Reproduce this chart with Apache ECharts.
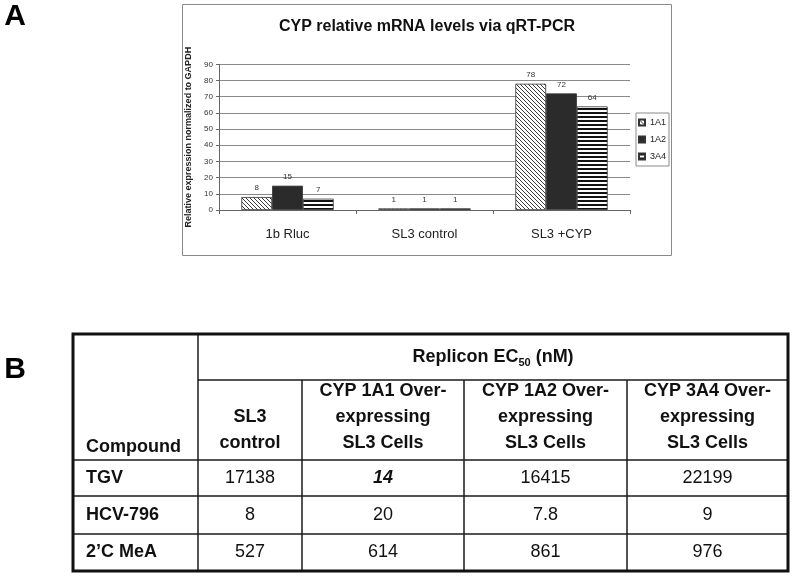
<!DOCTYPE html>
<html>
<head>
<meta charset="utf-8">
<script src="https://cdn.jsdelivr.net/npm/echarts@6/dist/echarts.min.js"></script>
<style>
html,body{margin:0;padding:0;background:#fff;}
#main{width:795px;height:577px;}
</style>
</head>
<body>
<div id="main"></div>
<script>
// ---- Panel A data ----
const chartTitle = 'CYP relative mRNA levels via qRT-PCR';
const yAxisName = 'Relative expression normalized to GAPDH';
const categories = ['1b Rluc', 'SL3 control', 'SL3 +CYP'];
const seriesNames = ['1A1', '1A2', '3A4'];
const values1A1 = [8, 1, 78];
const values1A2 = [15, 1, 72];
const values3A4 = [7, 1, 64];
const yMin = 0, yMax = 90, yStep = 10;

// ---- Panel B data ----
const tableGroupHeader = 'Replicon EC';
const tableGroupSub = '50';
const tableGroupTail = ' (nM)';
const compoundHeader = 'Compound';
const columnHeaders = ['SL3\ncontrol', 'CYP 1A1 Over-\nexpressing\nSL3 Cells', 'CYP 1A2 Over-\nexpressing\nSL3 Cells', 'CYP 3A4 Over-\nexpressing\nSL3 Cells'];
const compounds = ['TGV', 'HCV-796', '2\u2019C MeA'];
const rowTGV = ['17138', '14', '16415', '22199'];
const rowHCV796 = ['8', '20', '7.8', '9'];
const rowMeA = ['527', '614', '861', '976'];
const tableRows = [rowTGV, rowHCV796, rowMeA];
const emphasized = [[0, 1]]; // TGV in CYP 1A1 cells shown bold italic

const FONT = "'Liberation Sans', Arial, sans-serif";

function hatchPattern() {
  const c = document.createElement('canvas');
  c.width = 4; c.height = 4;
  const g = c.getContext('2d');
  g.fillStyle = '#fff'; g.fillRect(0, 0, 4, 4);
  g.strokeStyle = '#3a3a3a'; g.lineWidth = 1;
  g.beginPath();
  g.moveTo(-1, -1); g.lineTo(5, 5);
  g.moveTo(-1, 3); g.lineTo(1, 5);
  g.moveTo(3, -1); g.lineTo(5, 1);
  g.stroke();
  return c;
}
function stripePattern() {
  const c = document.createElement('canvas');
  c.width = 4; c.height = 4;
  const g = c.getContext('2d');
  g.fillStyle = '#fff'; g.fillRect(0, 0, 4, 4);
  g.fillStyle = '#111'; g.fillRect(0, 0, 4, 2);
  return c;
}

const seriesColors = [
  { image: hatchPattern(), repeat: 'repeat' },
  '#2b2b2b',
  { image: stripePattern(), repeat: 'repeat' }
];
const seriesData = [values1A1, values1A2, values3A4];

const chart = echarts.init(document.getElementById('main'), null, { renderer: 'canvas' });

// table geometry
const colX = [73, 198, 302, 464, 627, 788];
const rowY = [334, 380, 460, 496, 534, 571];

const graphics = [];
// chart frame
graphics.push({ type: 'rect', shape: { x: 182.5, y: 4.5, width: 489, height: 251 }, style: { fill: 'none', stroke: '#8a8a8a', lineWidth: 1 }, silent: true });
// title
graphics.push({ type: 'text', x: 427, y: 27, style: { text: chartTitle, font: 'bold 16px ' + FONT, fill: '#111', textAlign: 'center', textVerticalAlign: 'middle' } });
// panel letters
graphics.push({ type: 'text', x: 15, y: 17, style: { text: 'A', font: 'bold 30px ' + FONT, fill: '#000', textAlign: 'center', textVerticalAlign: 'middle' } });
graphics.push({ type: 'text', x: 15, y: 370, style: { text: 'B', font: 'bold 30px ' + FONT, fill: '#000', textAlign: 'center', textVerticalAlign: 'middle' } });

// table lines
const lineStyle = { stroke: '#1a1a1a', lineWidth: 1.5 };
// vertical lines
graphics.push({ type: 'line', shape: { x1: colX[1], y1: rowY[0], x2: colX[1], y2: rowY[5] }, style: lineStyle });
for (let i = 2; i < 5; i++) {
  graphics.push({ type: 'line', shape: { x1: colX[i], y1: rowY[1], x2: colX[i], y2: rowY[5] }, style: lineStyle });
}
// horizontal lines
graphics.push({ type: 'line', shape: { x1: colX[1], y1: rowY[1], x2: colX[5], y2: rowY[1] }, style: lineStyle });
for (let j = 2; j < 5; j++) {
  graphics.push({ type: 'line', shape: { x1: colX[0], y1: rowY[j], x2: colX[5], y2: rowY[j] }, style: lineStyle });
}
// outer border
graphics.push({ type: 'rect', shape: { x: colX[0], y: rowY[0], width: colX[5] - colX[0], height: rowY[5] - rowY[0] }, style: { fill: 'none', stroke: '#111', lineWidth: 3 } });

// group header with subscript
graphics.push({
  type: 'text', x: (colX[1] + colX[5]) / 2, y: (rowY[0] + rowY[1]) / 2,
  style: {
    text: '{b|' + tableGroupHeader + '}{s|' + tableGroupSub + '}{b|' + tableGroupTail + '}',
    textAlign: 'center', textVerticalAlign: 'middle',
    rich: {
      b: { fontFamily: FONT, fontSize: 18, fontWeight: 'bold', fill: '#111', lineHeight: 22, verticalAlign: 'middle' },
      s: { fontFamily: FONT, fontSize: 11, fontWeight: 'bold', fill: '#111', lineHeight: 22, verticalAlign: 'bottom', padding: [8, 0, 0, 0] }
    }
  }
});
// compound header
graphics.push({ type: 'text', x: colX[0] + 13, y: 456, style: { text: compoundHeader, font: 'bold 18px ' + FONT, fill: '#111', textAlign: 'left', textVerticalAlign: 'bottom' } });
// column headers
columnHeaders.forEach((h, i) => {
  graphics.push({ type: 'text', x: (colX[i + 1] + colX[i + 2]) / 2, y: 456, style: { text: h, font: 'bold 18px ' + FONT, lineHeight: 26, fill: '#111', textAlign: 'center', textVerticalAlign: 'bottom' } });
});
// rows
compounds.forEach((c, r) => {
  const cy = (rowY[r + 2] + rowY[r + 3]) / 2;
  graphics.push({ type: 'text', x: colX[0] + 13, y: cy, style: { text: c, font: 'bold 18px ' + FONT, fill: '#111', textAlign: 'left', textVerticalAlign: 'middle' } });
  tableRows[r].forEach((v, k) => {
    const emph = emphasized.some(e => e[0] === r && e[1] === k);
    graphics.push({ type: 'text', x: (colX[k + 1] + colX[k + 2]) / 2, y: cy, style: { text: v, font: (emph ? 'italic bold ' : '') + '18px ' + FONT, fill: '#111', textAlign: 'center', textVerticalAlign: 'middle' } });
  });
});

const option = {
  animation: false,
  backgroundColor: '#fff',
  textStyle: { fontFamily: FONT },
  grid: { left: 219, right: 165, top: 64.3, bottom: 367, containLabel: false },
  legend: {
    orient: 'vertical', left: 636, top: 113,
    data: seriesNames,
    itemWidth: 6, itemHeight: 6, itemGap: 6,
    padding: [4, 3, 4, 2],
    borderColor: '#8a8a8a', borderWidth: 1,
    icon: 'rect',
    textStyle: { fontSize: 9, color: '#222', padding: [0, 0, 0, 0], lineHeight: 11 },
    selectedMode: false
  },
  xAxis: {
    type: 'category', data: categories,
    axisLine: { lineStyle: { color: '#666', width: 1 } },
    axisTick: { show: true, length: 4, lineStyle: { color: '#666' } },
    axisLabel: { fontSize: 13, color: '#222', margin: 18 }
  },
  yAxis: {
    type: 'value', min: yMin, max: yMax, interval: yStep,
    name: yAxisName, nameLocation: 'middle', nameGap: 21,
    nameTextStyle: { fontSize: 9, fontWeight: 'bold', color: '#222' },
    axisLine: { show: true, lineStyle: { color: '#666', width: 1 } },
    axisTick: { show: true, length: 3, lineStyle: { color: '#666' } },
    axisLabel: { fontSize: 8, color: '#333', margin: 6 },
    splitLine: { lineStyle: { color: '#8a8a8a', width: 1 } }
  },
  series: seriesNames.map((n, i) => ({
    name: n, type: 'bar', data: seriesData[i],
    barGap: '0%', barCategoryGap: '32.6%',
    itemStyle: { color: seriesColors[i], borderColor: '#333', borderWidth: 0.8 },
    label: { show: true, position: 'top', distance: 5, fontSize: 8, color: '#333' }
  })),
  graphic: graphics
};
chart.setOption(option);
</script>
</body>
</html>
